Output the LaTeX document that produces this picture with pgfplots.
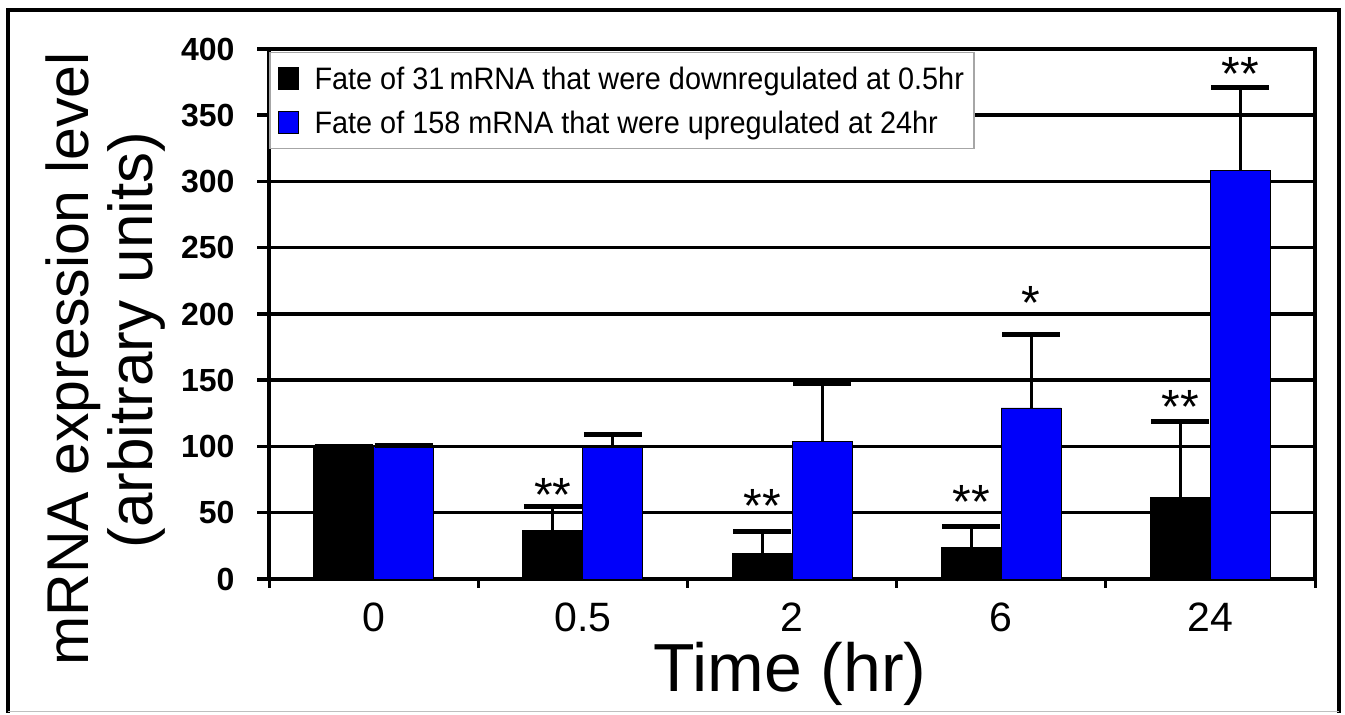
\documentclass[border=0pt]{standalone}
\usepackage{fontspec}
\setmainfont{Liberation Sans}
\newfontfamily\legfont{Liberation Sans}[FakeStretch=0.93]
\usepackage{pgfplots}
\usepackage{pgfplotstable}
\pgfplotsset{compat=1.18}

\definecolor{barblue}{RGB}{0,0,250}

% mean and upper error of each group (0, 0.5, 2, 6, 24 hr)
\pgfplotstableread{
x  down  downerr  up     uperr
0  100   0        100    0.5
1  36.5  18.5     99     9.7
2  19.6  16.0     103.8  43.5
3  24.0  15.8     129.1  55.6
4  61.4  57.7     308.3  62.3
}\fatedata

\begin{document}
\begin{tikzpicture}
% page and outer frame
\path (0pt,0pt) rectangle (1345pt,713pt);
\draw[line width=3.5pt] (8pt,0pt) -- (8pt,703pt) -- (1339pt,703pt) -- (1339pt,0pt);
\draw[gray!50, line width=1pt] (8pt,1pt) -- (1339pt,1pt);

\begin{axis}[
    at={(269pt,134pt)}, anchor=south west,
    scale only axis,
    width=1046pt, height=530pt,
    ybar=0pt, bar width=60pt,
    xmin=-0.5, xmax=4.5,
    ymin=0, ymax=400,
    xtick={0,1,2,3,4},
    xticklabels={0,0.5,2,6,24},
    minor xtick={-0.5,0.5,1.5,2.5,3.5,4.5},
    ytick={0,50,...,400},
    tick pos=left,
    tick align=outside,
    major tick length=12pt,
    minor tick length=9pt,
    major x tick style={draw=none},
    every tick/.style={black, line width=3.5pt},
    minor tick style={black, line width=3pt},
    axis line style={line width=4pt},
    ymajorgrids,
    grid style={black, line width=3.5pt},
    /pgf/number format/assume math mode=true,
    yticklabel style={font=\bfseries\fontsize{32}{32}\selectfont, xshift=-19pt},
    xticklabel style={font=\fontsize{41}{41}\selectfont, yshift=-8pt},
    legend style={
        at={(rel axis cs:0,1)}, anchor=north west, yshift=-3pt,
        draw=gray!70, line width=1.5pt, fill=white,
        font=\legfont\fontsize{31}{34}\selectfont,
        inner xsep=8pt, inner ysep=12pt,
        row sep=16pt,
        /tikz/every odd column/.append style={column sep=14pt},
    },
    legend cell align=left,
    legend image code/.code={\draw[#1, line width=0.8pt] (0pt,-11pt) rectangle (20pt,11pt);},
    error bars/y dir=plus,
    error bars/y explicit,
    error bars/error mark=|,
    error bars/error bar style={black, line width=3pt},
    error bars/error mark options={black, line width=5pt, mark size=29pt},
    clip=false,
]
\addplot[fill=black, draw=black, line width=0.8pt]
    table[x=x, y=down, y error=downerr] {\fatedata};
\addplot[fill=barblue, draw=black, line width=0.8pt]
    table[x=x, y=up, y error=uperr] {\fatedata};
\legend{Fate of 31\,mRNA that were downregulated at 0.5hr,
        Fate of 158 mRNA that were upregulated at 24hr}

% significance marks
\begin{scope}[every node/.style={font=\fontsize{48}{48}\selectfont, anchor=base}]
\node at (axis cs:0.857,51.3) {**};
\node at (axis cs:1.857,43.0) {**};
\node at (axis cs:2.857,46.0) {**};
\node at (axis cs:3.143,195.5) {*};
\node at (axis cs:3.857,117.7) {**};
\node at (axis cs:4.143,368.3) {**};
\end{scope}
\end{axis}

% axis titles
\node[rotate=90, anchor=base, font=\fontsize{59}{59}\selectfont] at (88pt,354pt) {mRNA expression level};
\node[rotate=90, anchor=base, font=\fontsize{62}{62}\selectfont] at (152pt,373pt) {(arbitrary units)};
\node[anchor=base, font=\fontsize{68}{68}\selectfont] at (790pt,21pt) {Time (hr)};
\end{tikzpicture}
\end{document}
